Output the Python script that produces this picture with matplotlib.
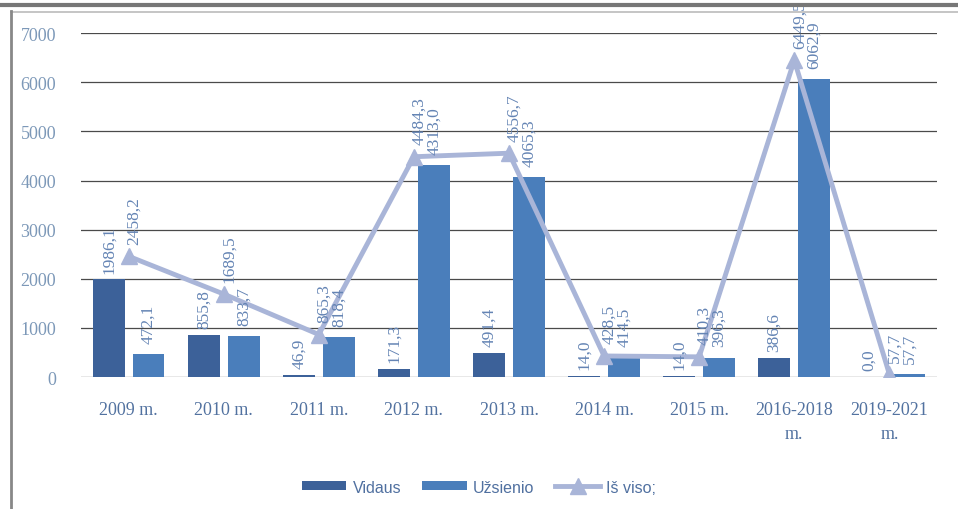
import matplotlib
matplotlib.use("Agg")
import matplotlib.pyplot as plt
from matplotlib.lines import Line2D
import numpy as np

# duomenys
metai = ["2009 m.", "2010 m.", "2011 m.", "2012 m.", "2013 m.", "2014 m.",
         "2015 m.", "2016-2018\nm.", "2019-2021\nm."]
vidaus = [1986.1, 855.8, 46.9, 171.3, 491.4, 14.0, 14.0, 386.6, 0.0]
uzsienio = [472.1, 833.7, 818.4, 4313.0, 4065.3, 414.5, 396.3, 6062.9, 57.7]
is_viso = [2458.2, 1689.5, 865.3, 4484.3, 4556.7, 428.5, 410.3, 6449.5, 57.7]

c_vid = "#3C6199"
c_uzs = "#4A7EBB"
c_line = "#A9B5D8"
c_txt = "#6484B4"

def fmt(v):
    return ("%.1f" % v).replace(".", ",")

fig = plt.figure(figsize=(9.58, 5.10), dpi=100)
ax = fig.add_axes([0.0846, 0.2588, 0.8934, 0.6742])

x = np.arange(len(metai))
w = 0.335
b1 = ax.bar(x - 0.21, vidaus, w, color=c_vid, label="Vidaus", zorder=2)
b2 = ax.bar(x + 0.21, uzsienio, w, color=c_uzs, label="Užsienio", zorder=2)
l1, = ax.plot(x, is_viso, color=c_line, lw=3.5, marker="^", ms=11, label="Iš viso;", zorder=3)

lab_font = dict(family="Liberation Serif", fontsize=12.5, rotation=90, color=c_txt,
                ha="center", va="bottom")
for i in range(len(x)):
    ax.annotate(fmt(vidaus[i]), (x[i] - 0.21, vidaus[i]), xytext=(0, 5),
                textcoords="offset points", **lab_font)
    ax.annotate(fmt(uzsienio[i]), (x[i] + 0.21, uzsienio[i]), xytext=(0, 8),
                textcoords="offset points", **lab_font)
    ax.annotate(fmt(is_viso[i]), (x[i], is_viso[i]), xytext=(4, 9),
                textcoords="offset points", zorder=4, **lab_font)

ax.set_xlim(-0.5, 8.5)
ax.set_ylim(0, 7000)
ax.set_yticks(range(0, 7001, 1000))
ax.yaxis.grid(True, color="#4a4a4a", lw=0.9, zorder=0)
ax.set_axisbelow(True)
for s in ax.spines.values():
    s.set_visible(False)
ax.tick_params(length=0)
ax.tick_params(axis="y", pad=18, labelcolor="#7C98B8", labelsize=13)
ax.tick_params(axis="x", pad=17, labelcolor="#5272A0", labelsize=13)
for t in ax.get_yticklabels() + ax.get_xticklabels():
    t.set_fontfamily("Liberation Serif")
ax.set_xticks(x)
ax.set_xticklabels(metai, linespacing=1.55)

leg = fig.legend([b1, b2, l1], ["Vidaus", "Užsienio", "Iš viso;"],
                 loc="center", bbox_to_anchor=(0.5, 0.043), ncol=3, frameon=False,
                 prop={"family": "Liberation Sans", "size": 11.5},
                 handlelength=2.8, handleheight=0.5, columnspacing=1.3, handletextpad=0.4)
for t in leg.get_texts():
    t.set_color("#5070A0")

# rėmelis
fig.add_artist(Line2D([0, 1], [0.988, 0.988], color="#777777", lw=3, transform=fig.transFigure))
fig.add_artist(Line2D([0.0115, 1], [0.975, 0.975], color="#bbbbbb", lw=1.2, transform=fig.transFigure))
fig.add_artist(Line2D([0.011, 0.011], [0, 0.977], color="#888888", lw=2, transform=fig.transFigure))

fig.savefig("out.png", dpi=100)
